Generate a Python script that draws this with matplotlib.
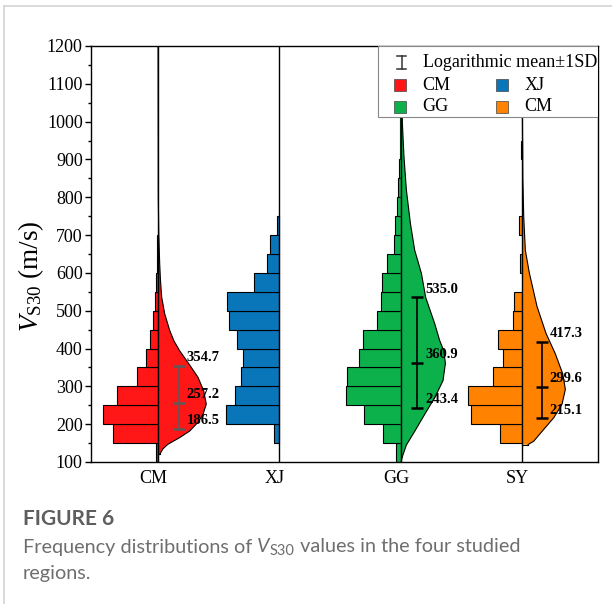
import numpy as np
import matplotlib
matplotlib.use("Agg")
import matplotlib.pyplot as plt
from matplotlib.lines import Line2D
from matplotlib.patches import Rectangle
from matplotlib.ticker import MultipleLocator

# --- data ---
regions = ["CM", "XJ", "GG", "SY"]
bin_start = [100, 150, 200, 250, 300, 350, 400, 450, 500, 550, 600,
             650, 700, 750, 800, 850, 900, 950, 1000, 1050, 1100, 1150]
bin_width = 50

# histogram bar lengths (relative frequency, arbitrary units)
cm_freq = [1.5, 44.7, 54.7, 40.7, 20.7, 12.0, 8.0, 4.5, 2.7, 1.7, 1.0,
           0.5, 0, 0, 0, 0, 0, 0, 0, 0, 0, 0]
xj_freq = [0, 5.5, 53.0, 44.5, 38.5, 36.5, 42.0, 50.5, 52.5, 25.5, 12.5,
           9.0, 2.5, 0, 0, 0, 0, 0, 0, 0, 0, 0]
gg_freq = [5.0, 17.7, 37.0, 55.0, 53.7, 41.7, 37.7, 23.7, 19.3, 18.7, 13.3,
           6.7, 6.0, 3.3, 2.3, 1.7, 1.0, 0.7, 0.5, 0.3, 0.3, 0]
sy_freq = [0, 22.3, 51.0, 54.3, 29.3, 19.0, 24.3, 9.0, 7.7, 0, 2.3,
           0, 2.7, 0, 0, 0, 0.7, 0, 0, 0, 0, 0]

# density curves (Vs30, density in the same units)
cm_kde_v = [120, 135, 147, 165, 182, 205, 226, 253, 288, 324, 359, 394,
            420, 448, 492, 536, 580, 625, 700, 800, 1200]
cm_kde_d = [1.7, 5.0, 10.0, 22.0, 31.7, 40.0, 45.0, 48.3, 45.7, 40.0, 31.0,
            21.7, 16.0, 11.7, 6.7, 3.7, 2.5, 1.7, 0.8, 0.3, 0.1]
gg_kde_v = [105, 119, 145, 181, 226, 270, 315, 361, 395, 421, 466, 535,
            599, 660, 731, 819, 907, 995, 1100, 1200]
gg_kde_d = [0.8, 2.3, 5.7, 14.0, 24.0, 34.0, 42.3, 44.7, 43.0, 39.0, 34.0,
            25.0, 20.7, 14.0, 9.7, 5.7, 3.3, 1.7, 0.8, 0.4]
sy_kde_v = [146, 155, 181, 217, 253, 292, 333, 386, 440, 511, 600, 660,
            748, 850, 1000, 1200]
sy_kde_d = [6.0, 11.7, 20.0, 31.7, 40.0, 43.3, 40.7, 33.3, 24.0, 15.0, 7.3,
            3.3, 1.7, 0.8, 0.4, 0.2]

# logarithmic mean +/- 1SD
stat_lo = [186.5, 243.4, 215.1]
stat_mean = [257.2, 360.9, 299.6]
stat_hi = [354.7, 535.0, 417.3]

colors = ["#FF1616", "#0A76BA", "#0DB14B", "#FF8200"]
positions = [1, 2, 3, 4]
freq_scale = 1 / 121.3

plt.rcParams["font.family"] = ["Liberation Serif", "DejaVu Serif"]
plt.rcParams["mathtext.fontset"] = "custom"
plt.rcParams["mathtext.rm"] = "Liberation Serif"
plt.rcParams["mathtext.it"] = "Liberation Serif:italic"

fig = plt.figure(figsize=(6.12, 6.04), dpi=100)
ax = fig.add_axes([91 / 612, 1 - 462 / 604, 507 / 612, 416 / 604])

freqs = [cm_freq, xj_freq, gg_freq, sy_freq]
for pos, fr, col in zip(positions, freqs, colors):
    for b, f in zip(bin_start, fr):
        if f <= 0:
            continue
        ax.add_patch(Rectangle((pos - f * freq_scale, b), f * freq_scale, bin_width,
                               facecolor=col, edgecolor="black", linewidth=0.8, zorder=2))
    ax.plot([pos, pos], [100, 1200], color="black", lw=1.0, zorder=3)

kdes = [(0, cm_kde_v, cm_kde_d), (2, gg_kde_v, gg_kde_d), (3, sy_kde_v, sy_kde_d)]
for i, kv, kd in kdes:
    kv = np.array(kv)
    kd = np.array(kd) * freq_scale
    ax.fill_betweenx(kv, positions[i], positions[i] + kd, facecolor=colors[i],
                     edgecolor="none", zorder=2)
    ax.plot(positions[i] + kd, kv, color="black", lw=0.8, zorder=3)
    ax.plot([positions[i], positions[i] + kd[0]], [kv[0], kv[0]], color="black", lw=0.8, zorder=3)

# error bars and labels
err_offset = [0.173, 0.138, 0.165]
err_colors = ["#5a5a5a", "black", "black"]
for k, i in enumerate([0, 2, 3]):
    x = positions[i] + err_offset[k]
    m = stat_mean[k]
    ax.errorbar([x], [m], yerr=[[m - stat_lo[k]], [stat_hi[k] - m]], fmt="none",
                ecolor=err_colors[k], elinewidth=1.2, capsize=4, capthick=1.8, zorder=4)
    ax.plot([x], [m], marker="_", ms=8, mew=1.8, color=err_colors[k], zorder=4)
    for v in (stat_lo[k], m, stat_hi[k]):
        ax.annotate(f"{v:.1f}", (x, v), xytext=(5.5, 6), textcoords="offset points",
                    ha="left", va="center", fontsize=10.5, fontweight="bold", zorder=5)

ax.set_xlim(0.448, 4.626)
ax.set_ylim(100, 1200)
ax.set_xticks([p - 0.035 for p in positions])
ax.set_xticklabels(regions, fontsize=13)
ax.tick_params(axis="x", length=0, pad=6)
ax.yaxis.set_major_locator(MultipleLocator(100))
ax.yaxis.set_minor_locator(MultipleLocator(50))
ax.tick_params(axis="y", which="major", direction="out", length=4, width=1, labelsize=13, pad=2)
ax.tick_params(axis="y", which="minor", direction="out", length=2.2, width=1)
for s in ax.spines.values():
    s.set_linewidth(1.0)
ax.set_ylabel(r"$V_{\mathrm{S30}}$ (m/s)", fontsize=19.5)
ax.yaxis.set_label_coords(-0.088, 0.447)

# legend drawn by hand
lx0, ly0 = (378 - 91) / 507, (462 - 117) / 416
ax.add_patch(Rectangle((lx0, ly0), 1 - lx0, 1 - ly0, transform=ax.transAxes,
                       facecolor="white", edgecolor="#888888", lw=0.8, zorder=6))

def ax_xy(px, py):
    return (px - 91) / 507, (462 - py) / 416

ex, ey = ax_xy(401.5, 62.5)
hh = 6.5 / 416
ax.add_line(Line2D([ex, ex], [ey - hh, ey + hh], transform=ax.transAxes, color="#333333", lw=1.1, zorder=7))
for yy in (ey - hh, ey + hh):
    ax.add_line(Line2D([ex - 4.5 / 507, ex + 4.5 / 507], [yy, yy], transform=ax.transAxes,
                       color="#333333", lw=1.1, zorder=7))
tx, ty = ax_xy(423, 62.5)
ax.text(tx, ty, "Logarithmic mean\u00b11SD", transform=ax.transAxes, fontsize=13,
        va="center", ha="left", zorder=7)
legend_items = [(399.5, 85, colors[0], "CM"), (501.5, 85, colors[1], "XJ"),
                (399.5, 106.5, colors[2], "GG"), (501.5, 106.5, colors[3], "CM")]
for px, py, col, lab in legend_items:
    sx, sy = ax_xy(px, py)
    ax.plot([sx], [sy], marker="s", ms=9, mfc=col, mec="#444444", mew=0.5,
            transform=ax.transAxes, clip_on=False, zorder=7)
    tx, ty = ax_xy(px + 23, py)
    ax.text(tx, ty, lab, transform=ax.transAxes, fontsize=13, va="center", ha="left", zorder=7)

# page border
fig.add_artist(Line2D([4 / 612, 4 / 612], [0, 1 - 6 / 604], color="#d4d4d4", lw=1.2))
fig.add_artist(Line2D([4 / 612, 1], [1 - 6 / 604, 1 - 6 / 604], color="#d4d4d4", lw=1.2))

# caption
cap_font = ["Lato", "DejaVu Sans"]
fig.text(23 / 612, 1 - 519 / 604, "FIGURE 6", family=cap_font, fontweight="bold",
         fontsize=15, color="#5e5e5e", va="center", ha="left")
renderer = fig.canvas.get_renderer()
x = 23 / 612
yline = 1 - 547 / 604
pieces = [("Frequency distributions of ", "normal", 14.3, 0),
          ("V", "italic", 14.3, 0),
          ("S30", "normal", 10.5, -4),
          (" values in the four studied", "normal", 14.3, 0)]
for txt, style, size, dy in pieces:
    t = fig.text(x, yline + dy / 604, txt, family=cap_font, style=style, fontsize=size,
                 color="#6e6e6e", va="center", ha="left")
    x += t.get_window_extent(renderer).width / 612
fig.text(23 / 612, 1 - 573 / 604, "regions.", family=cap_font, fontsize=14.3,
         color="#6e6e6e", va="center", ha="left")

fig.savefig("out.png", dpi=100)
